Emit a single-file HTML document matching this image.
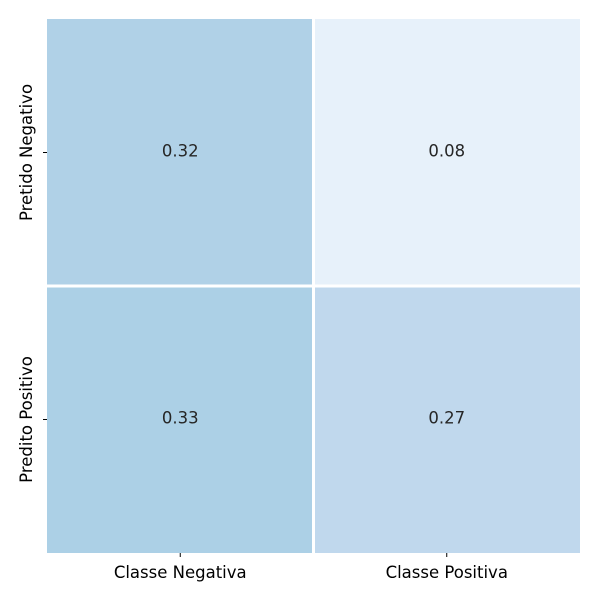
<!DOCTYPE html>
<html><head><meta charset="utf-8"><style>body{margin:0;background:#fff}svg{display:block;font-family:"DejaVu Sans","Liberation Sans",sans-serif}</style></head>
<body>
<svg id="chart" width="600" height="600"></svg>
<script>
const colLabels=["Classe Negativa","Classe Positiva"];
const rowLabels=["Pretido Negativo","Predito Positivo"];
const values=[[0.32,0.08],[0.33,0.27]];
const L=47,R=580,T=19,B=553;
const svg=document.getElementById('chart');
const NS='http://www.w3.org/2000/svg';
function mk(t,a){const e=document.createElementNS(NS,t);for(const k in a)e.setAttribute(k,a[k]);svg.appendChild(e);return e;}
const cw=(R-L)/colLabels.length, ch=(B-T)/rowLabels.length;
const stops=[[247,251,255],[222,235,247],[198,219,239],[158,202,225],[107,174,214],[66,146,198],[33,113,181],[8,81,156],[8,48,107]];
function color(v){
  const p=Math.max(0,Math.min(1,v))*(stops.length-1);
  const i=Math.min(stops.length-2,Math.floor(p)), f=p-i;
  return 'rgb('+stops[i].map((x,k)=>Math.round(x+(stops[i+1][k]-x)*f)).join(',')+')';
}
values.forEach((row,i)=>row.forEach((v,j)=>{
  const r=mk('rect',{x:L+j*cw,y:T+i*ch,width:cw,height:ch,fill:color(v)});
  
  
}));
for(let j=1;j<colLabels.length;j++){const l=mk('line',{x1:L+j*cw,x2:L+j*cw,y1:T,y2:B,stroke:'#fff','stroke-width':3});

}
for(let i=1;i<rowLabels.length;i++){const l=mk('line',{x1:L,x2:R,y1:T+i*ch,y2:T+i*ch,stroke:'#fff','stroke-width':3});

}
values.forEach((row,i)=>row.forEach((v,j)=>{
  const t=mk('text',{x:L+(j+0.5)*cw,y:T+(i+0.5)*ch+4,'text-anchor':'middle','font-size':16.5,fill:'#262626'});
  t.textContent=v.toFixed(2);
  
  
}));
colLabels.forEach((c,j)=>{
  const x=L+(j+0.5)*cw;
  const tk=mk('line',{x1:x,x2:x,y1:B,y2:B+4,stroke:'#000'});
  
  
  const t=mk('text',{x:x,y:B+25,'text-anchor':'middle','font-size':16.5,fill:'#000'});
  t.textContent=c;
  
  
});
rowLabels.forEach((c,i)=>{
  const y=T+(i+0.5)*ch;
  const tk=mk('line',{x1:L-4,x2:L,y1:y,y2:y,stroke:'#000'});
  
  
  const t=mk('text',{x:32,y:y,'text-anchor':'middle','font-size':16.5,fill:'#000',transform:'rotate(-90 32 '+y+')'});
  t.textContent=c;
  
  
});
</script>
</body></html>
